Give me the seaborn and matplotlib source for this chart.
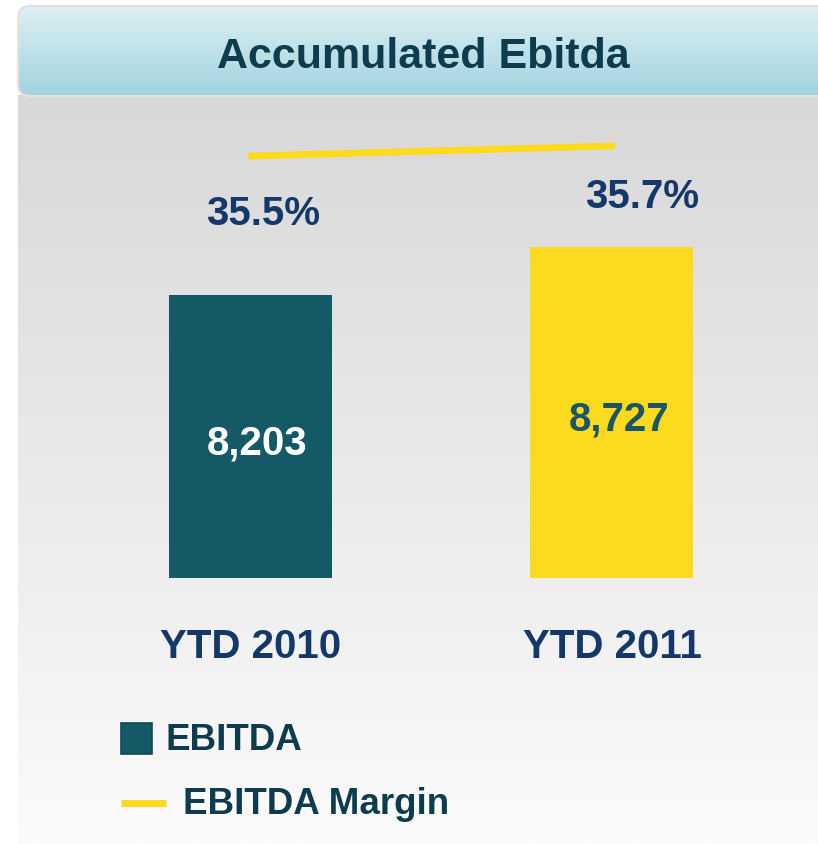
import numpy as np
import matplotlib
matplotlib.use("Agg")
import matplotlib.pyplot as plt
import seaborn as sns
from matplotlib.patches import FancyBboxPatch, Rectangle
from matplotlib.colors import LinearSegmentedColormap

periods = ["YTD 2010", "YTD 2011"]
ebitda = [8203, 8727]
margin = [35.5, 35.7]
value_labels = ["8,203", "8,727"]
margin_labels = ["35.5%", "35.7%"]
title = "Accumulated Ebitda"

TEAL = "#135a66"
YELLOW = "#fcda1e"
NAVY = "#15386a"
DARK = "#0c3c4d"

sns.set_theme(style="white")
plt.rcParams["font.family"] = ["Liberation Sans", "DejaVu Sans"]

fig = plt.figure(figsize=(8.18, 8.44), dpi=100)

# background / header drawn in pixel coords
bg = fig.add_axes([0, 0, 1, 1])
panel = LinearSegmentedColormap.from_list("panel", ["#d8d8d8", "#fbfbfb"])
bg.imshow(np.linspace(0, 1, 256)[:, None], cmap=panel, aspect="auto",
          extent=[18, 818, 844, 95])
header = FancyBboxPatch((18, 6), 830, 90, boxstyle="round,pad=0,rounding_size=12",
                        fc="none", ec="#e6e2d8", lw=1.5, zorder=3)
bg.add_patch(header)
hdr = LinearSegmentedColormap.from_list("hdr", ["#def0f4", "#a1d3de"])
im = bg.imshow(np.linspace(0, 1, 256)[:, None], cmap=hdr, aspect="auto",
               extent=[18, 848, 96, 6])
im.set_clip_path(header)
bg.set_xlim(0, 818)
bg.set_ylim(844, 0)
bg.axis("off")
bg.text(423, 68, title, ha="center", va="baseline", fontsize=31,
        fontweight="bold", color=DARK, zorder=4)

# bars
ax = fig.add_axes([18 / 818, (844 - 578) / 844, 800 / 818, 478 / 844])
ax.set_facecolor("none")
sns.barplot(x=periods, y=ebitda, hue=periods, palette=[TEAL, YELLOW], width=0.451,
            saturation=1, legend=False, linewidth=0, ax=ax)
ymin = 5113.5
ax.set_ylim(ymin, 10331.5)

# margin line
ax2 = ax.twinx()
sns.lineplot(x=np.arange(len(periods)), y=margin, ax=ax2, color=YELLOW, lw=5,
             solid_capstyle="round")
ax2.set_ylim(27.06, 36.62)
ax.set_xlim(-0.643, 1.570)

for a in (ax, ax2):
    for s in a.spines.values():
        s.set_visible(False)
    a.set_yticks([])
    a.set_ylabel("")

ax.set_xticks(range(len(periods)), periods)
ax.tick_params(axis="x", length=0, pad=36, labelsize=29, labelcolor=NAVY)
for lbl in ax.get_xticklabels():
    lbl.set_fontweight("bold")
ax.set_xlabel("")

for i, v in enumerate(ebitda):
    ax.annotate(value_labels[i], (i, (ymin + v) / 2), xytext=(5, -5),
                textcoords="offset points", ha="center", va="center",
                fontsize=29, fontweight="bold", color="white" if i == 0 else "#1b5566")

pct_offsets = [(9, -42), (22, -37)]
for i, m in enumerate(margin):
    ax2.annotate(margin_labels[i], (i, m), xytext=pct_offsets[i],
                 textcoords="offset points", ha="center", va="center",
                 fontsize=29, fontweight="bold", color=NAVY)

# legend
bg.add_patch(Rectangle((121, 723), 31, 31, fc=TEAL, ec="#0e4a55", lw=1.2))
bg.text(165, 741, "EBITDA", va="center", fontsize=26.5, fontweight="bold", color=DARK)
bg.plot([121, 166], [803, 803], color=YELLOW, lw=5, solid_capstyle="butt")
bg.text(183, 805, "EBITDA Margin", va="center", fontsize=26.5, fontweight="bold", color=DARK)

fig.savefig("out.png", dpi=100)
